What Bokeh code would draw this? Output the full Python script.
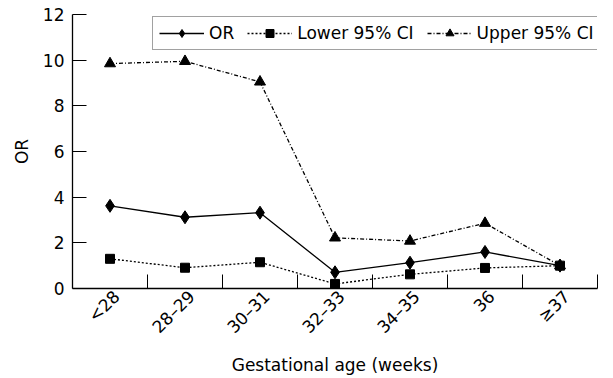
import math
from bokeh.plotting import figure
from bokeh.models import FixedTicker, Legend, LegendItem, Range1d
from bokeh.embed import file_html
from bokeh.resources import INLINE

categories = ["<28", "28\u201329", "30\u201331", "32\u201333", "34\u201335", "36", "\u226537"]
or_vals = [3.62, 3.12, 3.32, 0.71, 1.13, 1.60, 1.0]
lower_vals = [1.30, 0.91, 1.15, 0.20, 0.62, 0.90, 1.0]
upper_vals = [9.85, 9.95, 9.05, 2.22, 2.08, 2.86, 1.0]
y_ticks = [0, 2, 4, 6, 8, 10, 12]

FONT = "DejaVu Sans"
FS = "17px"

x = [i + 0.5 for i in range(len(categories))]
label_pos = [xi + 0.09 for xi in x]

p = figure(width=613, height=378, output_backend="svg", toolbar_location=None,
           x_range=Range1d(0, len(categories)), y_range=Range1d(0, 12),
           min_border_left=72, min_border_right=16, min_border_top=14, min_border_bottom=90)
p.outline_line_color = None
p.xgrid.visible = False
p.ygrid.visible = False
p.background_fill_color = "white"
p.border_fill_color = "white"

r_or_l = p.line(x, or_vals, line_color="black", line_width=1.3)
r_or_m = p.scatter(x, or_vals, marker="diamond", size=13, fill_color="black", line_color="black")
r_lo_l = p.line(x, lower_vals, line_color="black", line_width=1.3, line_dash="2 2")
r_lo_m = p.scatter(x, lower_vals, marker="square", size=9, fill_color="black", line_color="black")
r_up_l = p.line(x, upper_vals, line_color="black", line_width=1.3, line_dash="4 2 1 2")
r_up_m = p.scatter(x, upper_vals, marker="triangle", size=11, fill_color="black", line_color="black")

# x axis
xa = p.xaxis[0]
xa.ticker = FixedTicker(ticks=label_pos, minor_ticks=list(range(1, len(categories) + 1)))
xa.major_label_overrides = {xi: c for xi, c in zip(label_pos, categories)}
xa.major_tick_in = 0
xa.major_tick_out = 0
xa.minor_tick_in = 14
xa.minor_tick_out = 0
xa.minor_tick_line_color = "black"
xa.axis_line_color = "black"
xa.axis_line_width = 1.3
xa.major_label_orientation = math.pi / 4
xa.major_label_standoff = 5
xa.major_label_text_font = FONT
xa.major_label_text_font_size = FS
xa.major_label_text_color = "black"
xa.axis_label = "Gestational age (weeks)"
xa.axis_label_text_font = FONT
xa.axis_label_text_font_size = FS
xa.axis_label_text_font_style = "normal"
xa.axis_label_text_color = "black"
xa.axis_label_standoff = 8

ya = p.yaxis[0]
ya.ticker = FixedTicker(ticks=y_ticks, minor_ticks=[])
ya.major_tick_in = 14
ya.major_tick_out = 0
ya.major_tick_line_color = "black"
ya.axis_line_color = "black"
ya.axis_line_width = 1.3
ya.major_label_standoff = 8
ya.major_label_text_font = FONT
ya.major_label_text_font_size = FS
ya.major_label_text_color = "black"
ya.axis_label = "OR"
ya.axis_label_text_font = FONT
ya.axis_label_text_font_size = FS
ya.axis_label_text_font_style = "normal"
ya.axis_label_text_color = "black"
ya.axis_label_standoff = 8

legend = Legend(items=[
    LegendItem(label="OR", renderers=[r_or_l, r_or_m]),
    LegendItem(label="Lower 95% CI", renderers=[r_lo_l, r_lo_m]),
    LegendItem(label="Upper 95% CI", renderers=[r_up_l, r_up_m]),
], orientation="horizontal", location=(80, 238))
legend.label_text_font = FONT
legend.label_text_font_size = FS
legend.label_text_color = "black"
legend.glyph_width = 45
legend.glyph_height = 20
legend.label_standoff = 5
legend.spacing = 13
legend.padding = 6
legend.margin = 0
legend.border_line_color = "#444444"
legend.border_line_width = 1
legend.background_fill_alpha = 1
p.add_layout(legend, "center")

open("out.html", "w").write(file_html(p, INLINE))
